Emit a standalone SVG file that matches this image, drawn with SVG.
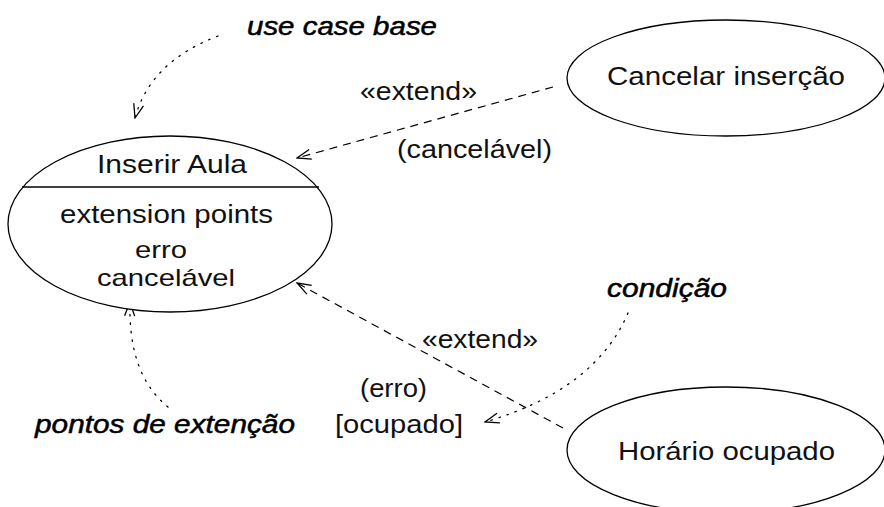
<svg xmlns="http://www.w3.org/2000/svg" width="884" height="507" viewBox="0 0 884 507">
  <style>
    .uc { fill: #fff; stroke: #000; stroke-width: 1.3; }
    .t { font-family: "Liberation Sans", Arial, Helvetica, sans-serif; font-size: 25px; fill: #111; }
    .sm { font-size: 24px; }
    .note { font-family: "Liberation Sans", Arial, Helvetica, sans-serif; font-size: 25px; font-style: italic; fill: #000; stroke: #000; stroke-width: 0.5; }
    .dep { fill: none; stroke: #000; stroke-width: 1.2; stroke-dasharray: 8 6; }
    .dot { fill: none; stroke: #000; stroke-width: 1.3; stroke-dasharray: 1.5 7; stroke-linecap: round; }
  </style>
  <defs>
    <marker id="open" viewBox="0 0 16 12" refX="15" refY="6" markerWidth="16" markerHeight="12" markerUnits="userSpaceOnUse" orient="auto">
      <path d="M1,1 L15,6 L1,11" fill="none" stroke="#000" stroke-width="1.3"/>
    </marker>
  </defs>

  <rect width="884" height="507" fill="#fff"/>

  <!-- connectors -->
  <g id="connectors">
    <path class="dep" d="M553,87 L297,158" marker-end="url(#open)"/>
    <path class="dep" d="M563,428 L297,283" marker-end="url(#open)"/>
    <path class="dot" d="M218,36 Q150,62 135,118" marker-end="url(#open)"/>
    <path class="dot" d="M168,407 Q128,375 130,302" marker-end="url(#open)"/>
    <path class="dot" d="M628,313 Q595,390 485,422" marker-end="url(#open)"/>
  </g>

  <!-- base use case -->
  <g id="inserir-aula">
    <ellipse class="uc" cx="170" cy="224" rx="162" ry="88"/>
    <line x1="22" y1="187" x2="319" y2="187" stroke="#000" stroke-width="1.3"/>
    <text class="t" x="97" y="173" textLength="150" lengthAdjust="spacingAndGlyphs">Inserir Aula</text>
    <text class="t" x="60" y="223" textLength="213" lengthAdjust="spacingAndGlyphs">extension points</text>
    <text class="t sm" x="135" y="258" textLength="52" lengthAdjust="spacingAndGlyphs">erro</text>
    <text class="t sm" x="97" y="286" textLength="138" lengthAdjust="spacingAndGlyphs">cancelável</text>
  </g>

  <g id="cancelar-insercao">
    <ellipse class="uc" cx="726" cy="78" rx="159" ry="58"/>
    <text class="t" x="607" y="85" textLength="238" lengthAdjust="spacingAndGlyphs">Cancelar inserção</text>
  </g>

  <g id="horario-ocupado">
    <ellipse class="uc" cx="726" cy="450" rx="159" ry="63"/>
    <text class="t" x="618" y="460" textLength="217" lengthAdjust="spacingAndGlyphs">Horário ocupado</text>
  </g>

  <!-- connector labels -->
  <g id="labels">
    <text class="t" x="360" y="100" textLength="117" lengthAdjust="spacingAndGlyphs">«extend»</text>
    <text class="t" x="397" y="158" textLength="155" lengthAdjust="spacingAndGlyphs">(cancelável)</text>
    <text class="t" x="422" y="348" textLength="116" lengthAdjust="spacingAndGlyphs">«extend»</text>
    <text class="t" x="360" y="397" textLength="67" lengthAdjust="spacingAndGlyphs">(erro)</text>
    <text class="t" x="335" y="433" textLength="128" lengthAdjust="spacingAndGlyphs">[ocupado]</text>
  </g>

  <!-- notes -->
  <g id="notes">
    <text class="note" x="247" y="35" textLength="190" lengthAdjust="spacingAndGlyphs">use case base</text>
    <text class="note" x="607" y="297" textLength="120" lengthAdjust="spacingAndGlyphs">condição</text>
    <text class="note" x="35" y="433" textLength="260" lengthAdjust="spacingAndGlyphs">pontos de extenção</text>
  </g>
</svg>
